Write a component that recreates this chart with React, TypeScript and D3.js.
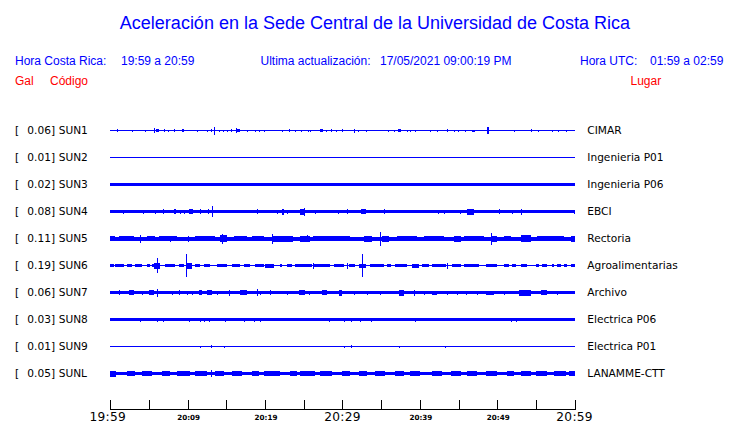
import React from "react";
import * as d3 from "d3";

type Ev = [number, number, number];

const title = "Aceleración en la Sede Central de la Universidad de Costa Rica";
const codes = ["SUN1", "SUN2", "SUN3", "SUN4", "SUN5", "SUN6", "SUN7", "SUN8", "SUN9", "SUNL"];
const maxValues = [0.06, 0.01, 0.02, 0.08, 0.11, 0.19, 0.06, 0.03, 0.01, 0.05];
const places = ["CIMAR", "Ingenieria P01", "Ingenieria P06", "EBCI", "Rectoria", "Agroalimentarias", "Archivo", "Electrica P06", "Electrica P01", "LANAMME-CTT"];
const baseAmps = [0.008, 0.008, 0.025, 0.028, 0.033, 0.008, 0.025, 0.025, 0.008, 0.025];

const tickMinutes = [0, 5, 10, 15, 20, 25, 30, 35, 40, 45, 50, 55, 60];
const tickLabels: [number, string, boolean][] = [
  [0, "19:59", true], [10, "20:09", false], [20, "20:19", false], [30, "20:29", true],
  [40, "20:39", false], [50, "20:49", false], [60, "20:59", true],
];

const sun1: Ev[] = [[0.87,0.87,0.025],[2.85,2.85,0.017],[4.53,4.53,0.017],[5.69,5.69,0.042],[5.95,6.34,0.025],[6.98,6.98,0.025],[7.46,7.46,0.017],[8.28,8.28,0.025],[9.27,9.57,0.025],[11.25,11.25,0.017],[12.5,12.5,0.017],[13.06,13.06,0.025],[13.36,13.36,0.065],[14.1,14.1,0.017],[14.6,14.6,0.017],[15.1,15.1,0.017],[15.6,15.6,0.025],[16.29,16.72,0.025],[16.29,16.29,0.042],[17.68,17.68,0.017],[18.66,18.66,0.017],[19.18,19.18,0.017],[19.92,19.92,0.017],[22.2,22.2,0.017],[23.06,23.06,0.025],[23.83,23.83,0.017],[24.6,24.6,0.017],[25.5,25.5,0.017],[25.77,25.77,0.017],[27.16,27.46,0.025],[27.93,27.93,0.017],[28.54,28.54,0.025],[29.23,29.23,0.017],[29.96,29.96,0.025],[31.55,31.55,0.033],[31.98,31.98,0.017],[32.98,32.98,0.017],[35.91,35.91,0.017],[36.64,36.64,0.017],[37.24,37.59,0.025],[38.28,38.28,0.017],[38.7,38.7,0.017],[39.44,39.44,0.017],[41.29,41.29,0.017],[42.25,42.25,0.017],[43.54,43.54,0.025],[44.4,44.4,0.017],[44.91,44.91,0.017],[45.78,45.78,0.017],[46.68,47.11,0.017],[48.71,49.0,0.058],[52.15,52.15,0.017],[54.31,54.31,0.025],[55.26,55.26,0.017],[57.03,57.03,0.017],[57.84,57.84,0.017],[58.93,58.93,0.017]];
const sun2: Ev[] = [];
const sun3: Ev[] = [];
const sun4: Ev[] = [[1.59,1.59,0.033],[4.18,4.18,0.033],[5.82,5.82,0.033],[6.76,6.76,0.042],[8.28,8.53,0.042],[9.05,9.05,0.033],[9.48,9.48,0.033],[10.13,10.69,0.042],[11.64,11.64,0.042],[12.58,12.58,0.042],[13.15,13.15,0.09],[18.97,18.97,0.042],[21.56,21.56,0.033],[22.2,22.41,0.05],[22.85,22.85,0.033],[24.48,25.09,0.05],[25.09,25.09,0.067],[26.5,26.5,0.033],[29.39,29.39,0.033],[30.61,30.61,0.042],[32.42,33.1,0.042],[35.34,35.34,0.042],[42.38,42.38,0.033],[43.1,43.1,0.033],[45.17,45.17,0.033],[46.13,46.98,0.05],[50.21,50.21,0.042],[51.95,51.95,0.033],[53.02,53.02,0.05],[59.87,59.87,0.033]];
const sun5: Ev[] = [[0,0.65,0.042],[1.07,3.01,0.042],[3.79,3.79,0.067],[4.75,5.82,0.042],[6.25,8.63,0.042],[7.76,7.76,0.05],[10.0,10.0,0.05],[10.99,13.58,0.042],[14.22,15.09,0.058],[14.48,14.48,0.083],[15.94,17.68,0.042],[18.32,19.82,0.042],[20.91,20.91,0.083],[21.08,23.67,0.05],[24.57,25.86,0.05],[25.44,25.44,0.058],[26.25,28.84,0.042],[28.45,31.04,0.042],[32.76,33.84,0.05],[34.91,34.91,0.117],[35.13,35.99,0.05],[37.07,39.66,0.042],[40.51,43.1,0.042],[44.39,45.26,0.05],[45.69,48.27,0.042],[49.14,49.14,0.1],[49.36,50.0,0.05],[50.86,51.72,0.042],[53.02,54.31,0.058],[55.18,58.62,0.042],[59.49,60,0.05]];
const sun6: Ev[] = [[0,0.43,0.025],[0.65,1.72,0.025],[2.16,2.81,0.025],[3.23,4.1,0.025],[4.75,5.08,0.025],[5.39,5.6,0.025],[5.69,6.47,0.05],[6.04,6.04,0.125],[7.11,8.41,0.025],[8.83,9.48,0.025],[9.74,9.74,0.19],[9.92,10.57,0.05],[10.99,11.64,0.025],[12.07,12.93,0.025],[13.8,15.09,0.025],[15.74,16.81,0.025],[17.24,18.1,0.025],[18.75,19.82,0.025],[20.04,21.12,0.033],[21.98,22.2,0.025],[22.85,23.5,0.025],[23.92,26.08,0.025],[26.16,26.16,0.05],[26.29,28.45,0.025],[28.88,30.17,0.025],[30.61,30.61,0.05],[30.82,31.68,0.025],[32.11,32.98,0.033],[32.55,32.55,0.19],[33.62,35.34,0.025],[35.78,36.21,0.025],[36.85,38.37,0.025],[39.01,39.87,0.033],[40.31,41.16,0.025],[41.6,43.32,0.025],[43.54,43.54,0.05],[44.19,45.26,0.025],[45.69,47.63,0.025],[48.49,50.0,0.025],[50.86,51.51,0.025],[51.95,52.37,0.025],[53.02,53.88,0.025],[54.96,55.39,0.025],[55.83,56.47,0.025],[57.12,57.33,0.025],[57.76,58.19,0.025],[58.62,59.06,0.025],[59.49,60,0.025]];
const sun7: Ev[] = [[1.07,1.29,0.042],[2.37,3.01,0.042],[4.1,4.1,0.033],[4.95,5.6,0.042],[6.04,6.04,0.067],[7.98,7.98,0.033],[8.83,9.05,0.042],[9.92,9.92,0.033],[10.57,10.57,0.033],[11.42,11.86,0.042],[12.5,13.15,0.042],[13.8,13.8,0.033],[15.3,15.52,0.05],[16.81,17.68,0.042],[18.97,18.97,0.058],[19.4,19.4,0.033],[20.69,20.69,0.042],[22.85,22.85,0.033],[24.35,25.22,0.042],[25.64,25.64,0.033],[27.38,28.02,0.042],[29.52,29.96,0.05],[31.46,31.46,0.033],[33.2,33.2,0.033],[34.91,34.91,0.033],[37.28,37.93,0.05],[39.22,39.44,0.05],[40.51,40.51,0.033],[41.6,42.25,0.033],[43.54,43.54,0.033],[44.83,44.83,0.033],[45.91,45.91,0.033],[47.42,47.42,0.033],[48.49,49.57,0.033],[50.86,50.86,0.033],[52.8,54.31,0.05],[55.61,56.47,0.042],[57.76,57.76,0.033]];
const sun8: Ev[] = [[3.79,3.79,0.033],[6.04,6.04,0.033],[6.81,6.81,0.033],[10.13,10.13,0.033],[11.64,11.64,0.033],[12.07,12.07,0.033],[12.71,12.71,0.033],[14.87,14.87,0.033],[17.33,17.33,0.033],[18.53,18.53,0.033],[19.31,19.31,0.033],[28.23,28.23,0.033],[30.17,30.17,0.033],[31.13,31.13,0.033],[32.33,32.33,0.033],[33.75,33.75,0.033],[39.44,39.44,0.033],[51.72,51.72,0.033],[52.37,52.37,0.033]];
const sun9: Ev[] = [[11.55,11.55,0.017],[13.06,13.06,0.025],[14.74,14.74,0.017],[30.17,30.17,0.017],[31.13,31.13,0.025],[37.37,37.37,0.017],[43.23,43.23,0.017]];
const sunL: Ev[] = [[0,0.78,0.05],[2.16,3.23,0.042],[4.1,5.39,0.042],[6.69,7.76,0.042],[8.63,10.35,0.042],[10.99,12.5,0.042],[13.06,13.06,0.058],[13.58,14.65,0.042],[15.74,17.03,0.042],[18.32,19.18,0.042],[19.82,21.98,0.042],[23.28,24.14,0.042],[24.57,26.5,0.042],[27.16,28.67,0.042],[29.96,31.04,0.042],[32.11,33.2,0.042],[34.27,35.56,0.042],[36.85,37.93,0.042],[38.79,40.08,0.042],[41.6,42.89,0.042],[43.97,45.26,0.042],[46.13,47.42,0.042],[48.49,50.0,0.042],[51.3,52.15,0.042],[53.02,54.31,0.042],[54.96,56.47,0.042],[57.33,58.84,0.042],[59.27,60,0.042]];
const eventsByStation = [sun1, sun2, sun3, sun4, sun5, sun6, sun7, sun8, sun9, sunL];

const W = 740, H = 423;
const BLUE = "#0000ff";
const RED = "#ff0000";
const SANS = "'Liberation Sans', Arial, sans-serif";
const DEJAVU = "'DejaVu Sans', sans-serif";

export default function App() {
  const x = d3.scaleLinear().domain([0, 60]).range([110.3, 574.6]);
  const y = d3.scalePoint<string>().domain(codes).range([130.5, 373.5]);
  const amp = d3.scaleLinear().domain([0, 0.19]).range([0, 11.4]);
  const hOf = (a: number) => Math.max(1, Math.round(2 * amp(a)));
  const axisY = 409.5;

  return (
    <div style={{ position: "absolute", left: 0, top: 0 }}>
      <svg width={W} height={H} style={{ display: "block", background: "#fff" }}>
        <text x={375} y={29} textAnchor="middle" fill={BLUE} fontFamily={SANS} fontSize={18}>{title}</text>
        <g fontFamily={SANS} fontSize={12} fill={BLUE}>
          <text x={15} y={65}>Hora Costa Rica:</text>
          <text x={121} y={65}>19:59 a 20:59</text>
          <text x={260.5} y={65}>Ultima actualización:</text>
          <text x={380} y={65}>17/05/2021 09:00:19 PM</text>
          <text x={580} y={65}>Hora UTC:</text>
          <text x={650} y={65}>01:59 a 02:59</text>
        </g>
        <g fontFamily={SANS} fontSize={12} fill={RED}>
          <text x={15} y={85}>Gal</text>
          <text x={50} y={85}>Código</text>
          <text x={630.5} y={85}>Lugar</text>
        </g>
        {codes.map((c, i) => {
          const cy = y(c)!;
          const bh = hOf(baseAmps[i]);
          return (
            <g key={c}>
              <g fontFamily={DEJAVU} fontSize={10.6} fill="#000">
                <text x={15} y={cy + 3.8}>[</text>
                <text x={27.3} y={cy + 3.8}>{maxValues[i].toFixed(2)}]</text>
                <text x={58.7} y={cy + 3.8}>{c}</text>
                <text x={587.3} y={cy + 3.8}>{places[i]}</text>
              </g>
              <g fill={BLUE} shapeRendering="crispEdges">
                <rect x={x(0)} y={cy - bh / 2} width={x(60) - x(0)} height={bh} />
                {eventsByStation[i].map((e, j) => {
                  const h = hOf(e[2]);
                  const x0 = Math.round(x(e[0]));
                  const w = e[1] > e[0] ? Math.max(1, Math.round(x(e[1])) - x0) : 1;
                  return <rect key={j} x={x0} y={cy - h / 2} width={w} height={h} />;
                })}
              </g>
            </g>
          );
        })}
        <g stroke="#000" shapeRendering="crispEdges">
          <line x1={x(0)} x2={x(60)} y1={axisY} y2={axisY} />
          {tickMinutes.map((m) => (
            <line key={m} x1={Math.round(x(m)) + 0.5} x2={Math.round(x(m)) + 0.5} y1={400} y2={axisY} />
          ))}
        </g>
        <g fill="#000" textAnchor="middle">
          {tickLabels.map(([m, lab, big]) =>
            big ? (
              <text key={m} x={x(m) - (m === 0 ? 2.5 : 0)} y={421} fontFamily={DEJAVU} fontSize={12.2} letterSpacing={0.3}>{lab}</text>
            ) : (
              <text key={m} x={x(m) + 1} y={419.5} fontFamily={DEJAVU} fontSize={7.2} fontWeight="bold">{lab}</text>
            )
          )}
        </g>
      </svg>
    </div>
  );
}
